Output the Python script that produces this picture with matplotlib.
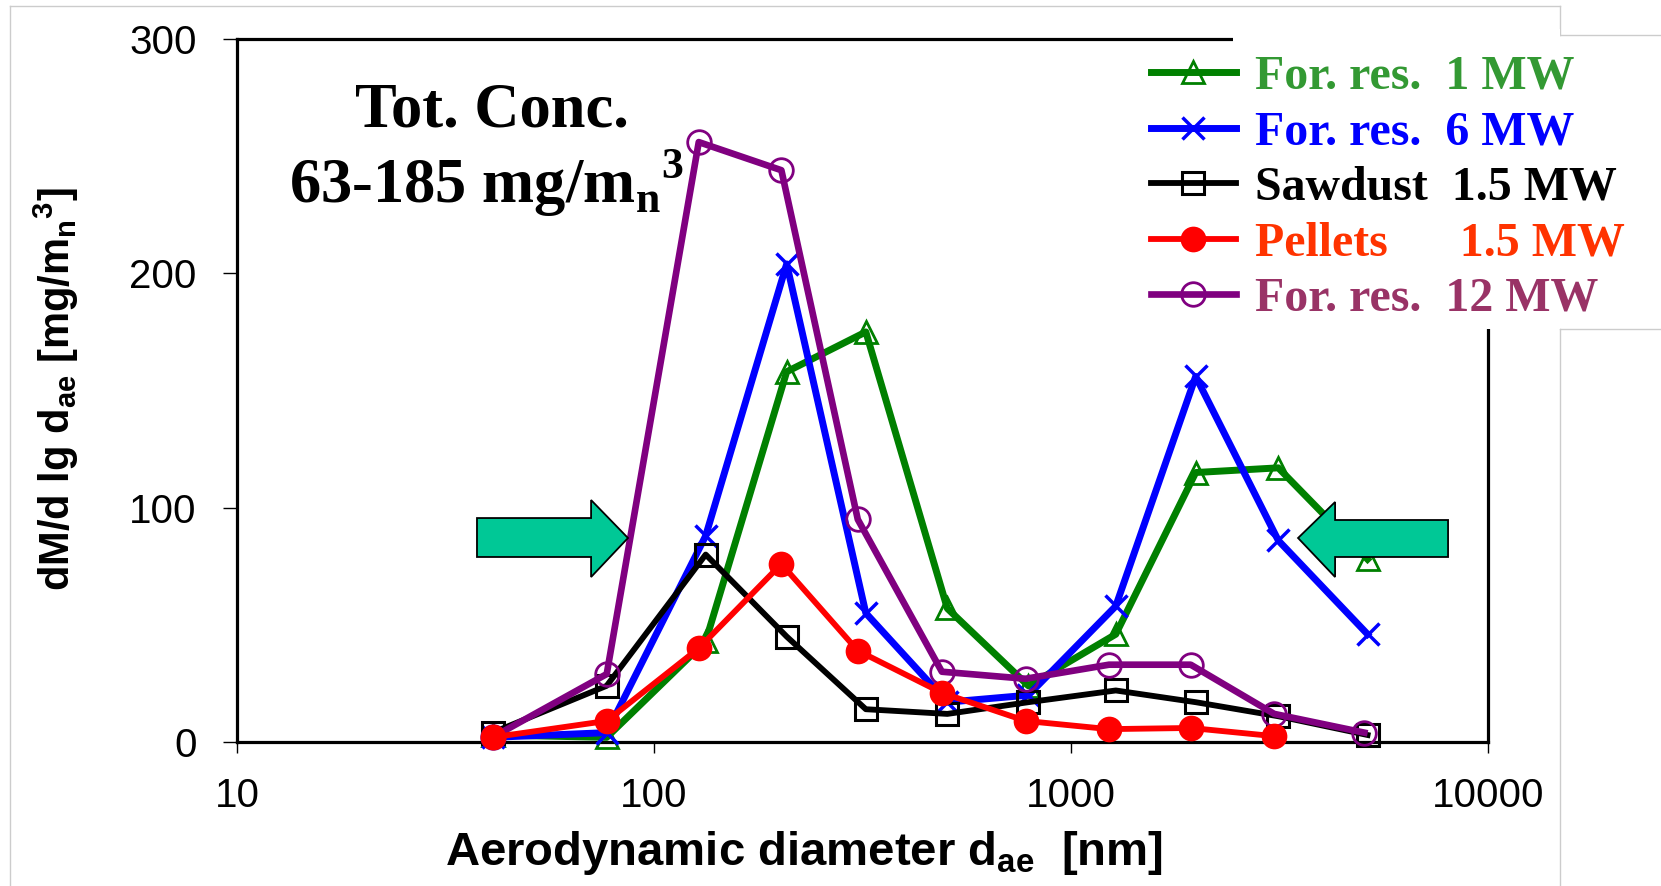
import matplotlib
matplotlib.use("Agg")
import matplotlib.pyplot as plt
from matplotlib.patches import Polygon, Rectangle
from matplotlib.lines import Line2D

# stage mid diameters [nm] (two impactor sets)
diam_a = [41, 77, 133, 208, 322, 505, 790, 1280, 1990, 3140, 5140]
diam_b = [41, 77, 128, 202, 308, 490, 778, 1233, 1936, 3070, 5050]

# dM/dlog(dae) [mg/mn3]
for_res_1mw = [3, 2, 43, 158, 175, 57, 24, 46, 115, 117, 78]
for_res_6mw = [2, 4, 88, 204, 55, 17, 20, 58, 156, 86, 46]
sawdust_15mw = [4, 24, 80, 45, 14, 12, 17, 22, 17, 11, 3]
pellets_15mw = [2, 9, 40, 76, 39, 21, 9, 5.5, 6, 2.5]
for_res_12mw = [2, 29, 256, 244, 95, 30, 27, 33, 33, 12, 4]

legend_labels = ["For. res.  1 MW", "For. res.  6 MW", "Sawdust  1.5 MW",
                 "Pellets      1.5 MW", "For. res.  12 MW"]
legend_colors = ["#339933", "#0000FF", "black", "#FF3300", "#993366"]

xticks = [10, 100, 1000, 10000]
yticks = [0, 100, 200, 300]

SANS = "Liberation Sans"
SERIF = "Liberation Serif"

fig = plt.figure(figsize=(16.61, 8.86), dpi=100)
ax = fig.add_axes([0.1427, 0.1625, 0.7532, 0.7935])

# (x, y, colour, marker, ms, lw, mfc, mew, zorder)
series = [
    (diam_a, for_res_1mw, "#008000", "^", 16, 5.0, "none", 2.0, 3),
    (diam_a, for_res_6mw, "#0000FF", "x", 16, 5.0, "none", 2.5, 4),
    (diam_a, sawdust_15mw, "black", "s", 16, 4.2, "none", 2.2, 5),
    (diam_b[:len(pellets_15mw)], pellets_15mw, "#FF0000", "o", 17, 4.2, "#FF0000", 1.5, 7),
    (diam_b, for_res_12mw, "#800080", "o", 17, 4.8, "none", 2.0, 6),
]

handles = []
for x, y, col, mk, ms, lw, mfc, mew, z in series:
    ln, = ax.plot(x, y, color=col, marker=mk, ms=ms, lw=lw, mfc=mfc, mec=col,
                  mew=mew, zorder=z, clip_on=False)
    handles.append(ln)

ax.set_xscale("log")
ax.set_xlim(10, 10000)
ax.set_ylim(0, 300)
ax.set_xticks(xticks)
ax.set_xticklabels([str(t) for t in xticks])
ax.set_yticks(yticks)
ax.set_yticklabels([str(t) for t in yticks])
ax.minorticks_off()
ax.tick_params(axis="y", direction="out", length=10, width=1, pad=19,
               labelsize=29, labelfontfamily=SANS)
ax.tick_params(axis="x", direction="out", length=8, width=1, pad=17,
               labelsize=29, labelfontfamily=SANS)
for sp in ax.spines.values():
    sp.set_linewidth(2.3)

# block arrows (axes fraction)
arrow_kw = dict(closed=True, facecolor="#00C896", edgecolor="black", lw=1.3,
                transform=ax.transAxes, zorder=8)
left_arrow = [(0.1918, 0.3186), (0.283, 0.3186), (0.283, 0.3442), (0.3125, 0.2902),
              (0.283, 0.2347), (0.283, 0.2632), (0.1918, 0.2632)]
right_arrow = [(0.968, 0.3158), (0.8777, 0.3158), (0.8777, 0.3414), (0.8481, 0.2902),
               (0.8777, 0.2347), (0.8777, 0.2632), (0.968, 0.2632)]
ax.add_patch(Polygon(left_arrow, **arrow_kw))
ax.add_patch(Polygon(right_arrow, **arrow_kw))

# annotation
fig.text(0.296, 0.8567, "Tot. Conc.", fontsize=45, fontweight="bold",
         family=SERIF, ha="center", va="baseline")
fig.text(0.293, 0.771, r"63-185 mg/m$_\mathregular{n}$$^\mathregular{3}$", fontsize=45,
         fontweight="bold", family=SERIF, ha="center", va="baseline")

# axis labels
fig.text(0.484, 0.0237, r"Aerodynamic diameter d$_\mathregular{ae}$  [nm]", fontsize=34,
         fontweight="bold", family=SANS, ha="center", va="baseline")
fig.text(0.034, 0.561, r"dM/d lg d$_\mathregular{ae}$ [mg/m$_\mathregular{n}$$^\mathregular{3}$]",
         fontsize=30, fontweight="bold", family=SANS, rotation=90,
         ha="center", va="center")

# white box behind legend hides part of the frame
fig.add_artist(Rectangle((1233 / 1661, 1 - 329 / 886), (1560 - 1233) / 1661, 300 / 886,
                         transform=fig.transFigure, facecolor="white",
                         edgecolor="none", zorder=1))

leg = fig.legend(handles, legend_labels, loc="upper left",
                 bbox_to_anchor=(0.693, 0.938), frameon=False, borderpad=0,
                 borderaxespad=0, handlelength=1.77, handletextpad=0.4,
                 labelspacing=0.24, prop={"family": SERIF, "weight": "bold", "size": 34.5},
                 labelcolor=legend_colors)
leg.set_zorder(10)

# faint slide frame lines
gray = "#cccccc"
frame_lines = [
    ([10, 10], [6, 886]), ([10, 1560], [6, 6]), ([1560, 1560], [6, 35]),
    ([1560, 1661], [35, 35]), ([1560, 1661], [329, 329]), ([1560, 1560], [329, 886]),
]
for xs, ys in frame_lines:
    fig.add_artist(Line2D([v / 1661 for v in xs], [1 - v / 886 for v in ys],
                          transform=fig.transFigure, color=gray, lw=1, zorder=0))

fig.savefig("out.png", dpi=100)
